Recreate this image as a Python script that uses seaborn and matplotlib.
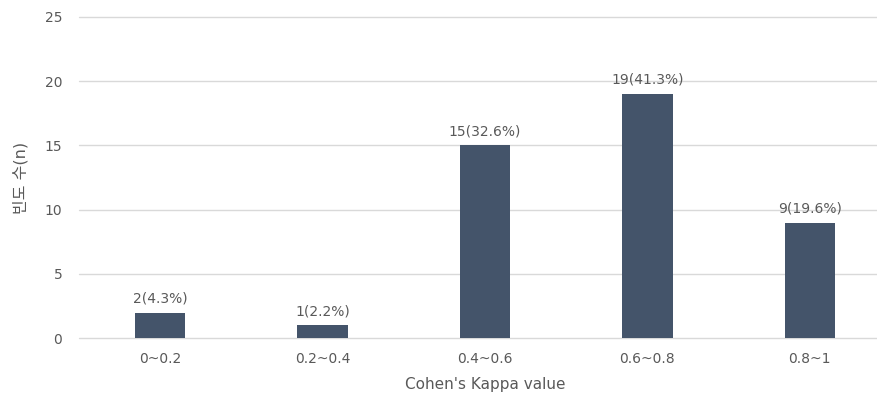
import matplotlib
matplotlib.use("Agg")
import matplotlib.pyplot as plt
import seaborn as sns
import pandas as pd

categories = ["0~0.2", "0.2~0.4", "0.4~0.6", "0.6~0.8", "0.8~1"]
counts = [2, 1, 15, 19, 9]
percents = [4.3, 2.2, 32.6, 41.3, 19.6]
y_ticks = [0, 5, 10, 15, 20, 25]

sns.set_theme(style="white")
plt.rcParams["font.family"] = ["DejaVu Sans", "Noto Sans CJK KR"]

text_color = "#595959"
bar_color = "#44546A"
grid_color = "#D9D9D9"

df = pd.DataFrame({"range": categories, "n": counts})

fig = plt.figure(figsize=(8.78, 3.96), dpi=100)
ax = fig.add_axes([79 / 878, 1 - 338.3 / 396, (891 - 79) / 878, (338.3 - 16.7) / 396])

sns.barplot(data=df, x="range", y="n", color=bar_color, width=0.31,
            saturation=1, linewidth=0, ax=ax)
for patch in ax.patches:
    patch.set_zorder(3)

for i, (c, p) in enumerate(zip(counts, percents)):
    ax.annotate(f"{c}({p}%)", xy=(i, c), xytext=(0, 5), textcoords="offset points",
                ha="center", va="bottom", fontsize=10, color=text_color, zorder=4)

ax.set_ylim(0, 25)
ax.set_xlim(-0.5, 4.5)
ax.set_yticks(y_ticks)
for y in y_ticks:
    ax.axhline(y, color=grid_color, linewidth=1.0, zorder=1, clip_on=False)
for s in ax.spines.values():
    s.set_visible(False)
ax.tick_params(axis="both", length=0, colors=text_color, labelsize=10)
ax.tick_params(axis="y", pad=12)
ax.tick_params(axis="x", pad=10)

ax.set_xlabel("Cohen's Kappa value", fontsize=11, color=text_color, labelpad=8)
ax.set_ylabel("빈도 수(n)", fontsize=11.5, color=text_color, labelpad=12)

fig.savefig("out.png", dpi=100)
